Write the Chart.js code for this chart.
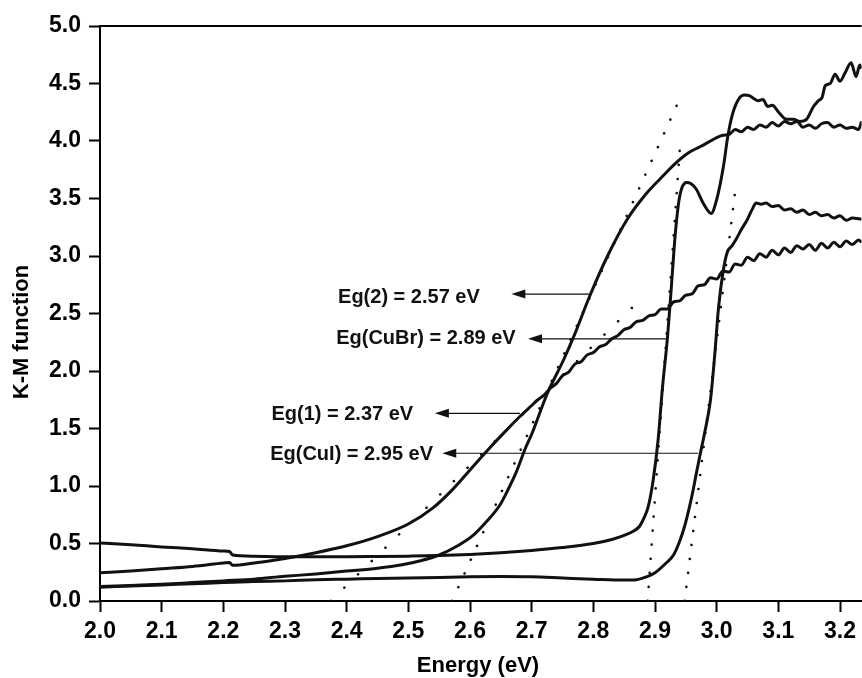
<!DOCTYPE html>
<html lang="en">
<head>
<meta charset="UTF-8">
<title>K-M function vs Energy</title>
<script src="https://cdn.jsdelivr.net/npm/chart.js@4"></script>
<style>
  html, body { margin: 0; padding: 0; background: #fff; }
  #wrap { width: 862px; height: 678px; }
</style>
</head>
<body>
<div id="wrap"><canvas id="grafico"></canvas></div>
<script>
// tick labels
const xTicks = [2.0, 2.1, 2.2, 2.3, 2.4, 2.5, 2.6, 2.7, 2.8, 2.9, 3.0, 3.1, 3.2];
const yTicks = [0, 0.5, 1.0, 1.5, 2.0, 2.5, 3.0, 3.5, 4.0, 4.5, 5.0];

// CuBr (edge at 2.89 eV, double structure)
const cubrE = [2.00,2.05,2.10,2.15,2.20,2.21,2.215,2.25,2.30,2.35,2.40,2.45,2.50,2.55,2.60,2.65,2.70,2.75,2.80,2.83,
  2.85,2.866,2.875,2.882,2.889,2.897,2.905,2.912,2.920,2.925,2.933,2.939,2.944,2.951,2.958,2.967,2.978,2.991,3.000,3.011,
  3.018,3.026,3.037,3.045,3.053,3.060,3.067,3.075,3.083,3.090,3.102,3.113,3.124,3.135,3.146,3.157,3.165,3.171,3.176,3.184,
  3.192,3.200,3.208,3.218,3.226,3.232,3.235];
const cubrKM = [0.505,0.49,0.47,0.455,0.435,0.43,0.40,0.39,0.385,0.385,0.385,0.387,0.39,0.395,0.405,0.42,0.44,0.465,0.50,0.535,
  0.57,0.61,0.65,0.72,0.82,1.05,1.40,1.85,2.28,2.62,3.20,3.49,3.60,3.64,3.63,3.58,3.46,3.37,3.49,3.78,
  4.04,4.24,4.375,4.40,4.395,4.37,4.35,4.36,4.30,4.31,4.24,4.19,4.19,4.17,4.19,4.30,4.35,4.38,4.48,4.50,
  4.58,4.52,4.59,4.68,4.56,4.66,4.63];

// sample 1 (Eg = 2.37 eV)
const s1E = [2.00,2.05,2.10,2.15,2.20,2.21,2.215,2.25,2.30,2.35,2.40,2.45,2.50,2.54,2.57,2.60,2.63,2.66,2.68,2.70,
  2.71,2.72,2.73,2.74,2.75,2.76,2.77,2.78,2.79,2.80,2.81,2.82,2.83,2.84,2.85,2.86,2.87,2.88,2.89,2.90,
  2.91,2.92,2.93,2.94,2.95,2.96,2.97,2.98,2.99,3.00,3.01,3.02,3.03,3.04,3.05,3.06,3.07,3.08,3.09,3.10,
  3.11,3.12,3.13,3.14,3.15,3.16,3.17,3.18,3.19,3.20,3.21,3.22,3.23,3.235];
const s1KM = [0.245,0.26,0.28,0.30,0.33,0.335,0.31,0.33,0.37,0.42,0.48,0.56,0.67,0.81,0.96,1.14,1.32,1.49,1.60,1.70,
  1.75,1.79,1.85,1.89,1.96,1.99,2.06,2.08,2.14,2.16,2.21,2.23,2.28,2.31,2.36,2.38,2.43,2.44,2.48,2.49,
  2.54,2.54,2.60,2.61,2.66,2.67,2.74,2.75,2.81,2.80,2.87,2.86,2.93,2.92,2.99,2.96,3.02,2.99,3.05,3.01,
  3.07,3.03,3.09,3.06,3.10,3.05,3.11,3.07,3.12,3.08,3.13,3.10,3.14,3.12];

// sample 2 (Eg = 2.57 eV)
const s2E = [2.00,2.05,2.10,2.15,2.20,2.25,2.30,2.35,2.40,2.45,2.49,2.52,2.55,2.58,2.605,2.625,2.648,2.66,2.675,2.69,
  2.70,2.725,2.752,2.769,2.794,2.823,2.855,2.887,2.91,2.934,2.955,2.973,2.99,3.00,3.01,3.021,3.03,3.04,3.05,3.06,
  3.07,3.08,3.09,3.10,3.11,3.12,3.13,3.14,3.15,3.16,3.17,3.18,3.19,3.20,3.21,3.22,3.23,3.235];
const s2KM = [0.125,0.135,0.145,0.16,0.175,0.19,0.215,0.235,0.26,0.285,0.315,0.35,0.40,0.48,0.57,0.68,0.83,0.95,1.12,1.33,
  1.45,1.80,2.10,2.31,2.65,3.00,3.32,3.55,3.68,3.81,3.90,3.95,4.00,4.03,4.05,4.06,4.10,4.08,4.12,4.10,
  4.14,4.12,4.16,4.13,4.17,4.15,4.17,4.12,4.14,4.11,4.15,4.16,4.12,4.14,4.11,4.12,4.10,4.17];

// CuI (edge at 2.95 eV)
const cuiE = [2.00,2.05,2.10,2.15,2.20,2.25,2.30,2.35,2.40,2.45,2.50,2.55,2.60,2.65,2.70,2.75,2.80,2.85,2.87,2.886,
  2.90,2.918,2.93,2.94,2.948,2.956,2.962,2.967,2.973,2.98,2.99,2.997,3.003,3.01,3.017,3.025,3.032,3.04,3.05,3.058,
  3.064,3.072,3.08,3.09,3.10,3.11,3.12,3.13,3.14,3.15,3.16,3.17,3.18,3.19,3.20,3.21,3.22,3.235];
const cuiKM = [0.12,0.13,0.14,0.15,0.16,0.17,0.175,0.185,0.19,0.195,0.20,0.205,0.21,0.212,0.21,0.20,0.19,0.182,0.185,0.21,
  0.245,0.33,0.40,0.52,0.65,0.82,0.97,1.11,1.27,1.45,1.75,2.15,2.55,2.85,3.03,3.09,3.15,3.23,3.32,3.41,
  3.46,3.45,3.46,3.43,3.44,3.40,3.41,3.38,3.40,3.36,3.38,3.35,3.36,3.33,3.35,3.31,3.33,3.32];

// dotted tangent lines: [start, end]
const tan1E = [2.374, 2.878], tan1KM = [0, 2.63];
const tan2E = [2.571, 2.937], tan2KM = [0, 4.33];
const tanCuBrE = [2.888, 2.941], tanCuBrKM = [0, 3.99];
const tanCuIE = [2.948, 3.032], tanCuIKM = [0, 3.65];

// annotations (data coordinates)
const noteText = ['Eg(2) = 2.57 eV', 'Eg(CuBr) = 2.89 eV', 'Eg(1) = 2.37 eV', 'Eg(CuI) = 2.95 eV'];
const noteE = [2.386, 2.383, 2.278, 2.276];
const noteKM = [2.643, 2.286, 1.625, 1.27];
const arrowFromE = [2.794, 2.918, 2.681, 2.970];
const arrowToE = [2.667, 2.694, 2.543, 2.555];
const arrowKM = [2.669, 2.28, 1.632, 1.285];

const pts = (xs, ys) => xs.map((x, i) => ({ x: x, y: ys[i] }));

const FONT = '"Liberation Sans", Arial, sans-serif';
Chart.defaults.font.family = FONT;
Chart.defaults.color = '#000';

function curve(xs, ys) {
  return { data: pts(xs, ys), borderColor: '#111', borderWidth: 3, pointRadius: 0,
    cubicInterpolationMode: 'monotone' };
}
function dotted(xs, ys, gap) {
  return { data: pts(xs, ys), borderColor: '#111', borderWidth: 2.6, pointRadius: 0,
    borderDash: [0.1, gap], borderCapStyle: 'round' };
}

const extras = {
  id: 'extras',
  afterDraw(chart) {
    const { ctx, chartArea: a, scales: { x, y } } = chart;
    ctx.save();
    ctx.strokeStyle = '#000';
    ctx.lineWidth = 2;
    ctx.beginPath();
    ctx.moveTo(a.left - 1, a.top);
    ctx.lineTo(a.right, a.top);
    ctx.stroke();

    ctx.fillStyle = '#111';
    ctx.font = 'bold 20px ' + FONT;
    ctx.textAlign = 'left';
    ctx.textBaseline = 'middle';
    noteText.forEach((t, i) => {
      ctx.fillText(t, x.getPixelForValue(noteE[i]), y.getPixelForValue(noteKM[i]));
      const py = y.getPixelForValue(arrowKM[i]);
      const x0 = x.getPixelForValue(arrowFromE[i]);
      const x1 = x.getPixelForValue(arrowToE[i]);
      ctx.lineWidth = 1.2;
      ctx.strokeStyle = '#111';
      ctx.beginPath();
      ctx.moveTo(x0, py);
      ctx.lineTo(x1 + 10, py);
      ctx.stroke();
      ctx.beginPath();
      ctx.moveTo(x1, py);
      ctx.lineTo(x1 + 14, py - 4.5);
      ctx.lineTo(x1 + 14, py + 4.5);
      ctx.closePath();
      ctx.fill();
    });

    // axis titles
    ctx.fillStyle = '#000';
    ctx.font = 'bold 22px ' + FONT;
    ctx.textAlign = 'center';
    ctx.textBaseline = 'middle';
    ctx.fillText('Energy (eV)', 478, 666);
    ctx.translate(22, 332);
    ctx.rotate(-Math.PI / 2);
    ctx.fillText('K-M function', 0, 0);
    ctx.restore();
  }
};

new Chart(document.getElementById('grafico'), {
  type: 'scatter',
  data: {
    datasets: [
      curve(cubrE, cubrKM),
      curve(s1E, s1KM),
      curve(s2E, s2KM),
      curve(cuiE, cuiKM),
      dotted(tan1E, tan1KM, 19),
      dotted(tan2E, tan2KM, 15),
      dotted(tanCuBrE, tanCuBrKM, 14),
      dotted(tanCuIE, tanCuIKM, 14)
    ].map(d => Object.assign({ showLine: true }, d))
  },
  options: {
    responsive: true,
    maintainAspectRatio: false,
    animation: false,
    devicePixelRatio: 1,
    layout: { padding: { top: 26, right: 0, left: 0, bottom: 0 } },
    plugins: { legend: { display: false }, tooltip: { enabled: false } },
    scales: {
      x: {
        type: 'linear',
        min: 2.0,
        max: 3.235,
        afterBuildTicks: s => { s.ticks = xTicks.map(v => ({ value: v })); },
        afterFit: s => { s.height = 77; },
        ticks: {
          autoSkip: false, maxRotation: 0, padding: 6, color: '#000',
          font: { size: 23, weight: 'bold' },
          callback: v => v.toFixed(1)
        },
        grid: { drawOnChartArea: false, drawTicks: true, tickLength: 11, tickWidth: 2, tickColor: '#000' },
        border: { display: true, color: '#000', width: 2 }
      },
      y: {
        min: 0,
        max: 5,
        afterBuildTicks: s => { s.ticks = yTicks.map(v => ({ value: v })); },
        afterFit: s => { s.width = 100; },
        ticks: {
          padding: 8, color: '#000',
          font: { size: 23, weight: 'bold' },
          callback: v => v.toFixed(1)
        },
        grid: { drawOnChartArea: false, drawTicks: true, tickLength: 11, tickWidth: 2, tickColor: '#000' },
        border: { display: true, color: '#000', width: 2 }
      }
    }
  },
  plugins: [extras]
});
</script>
</body>
</html>
